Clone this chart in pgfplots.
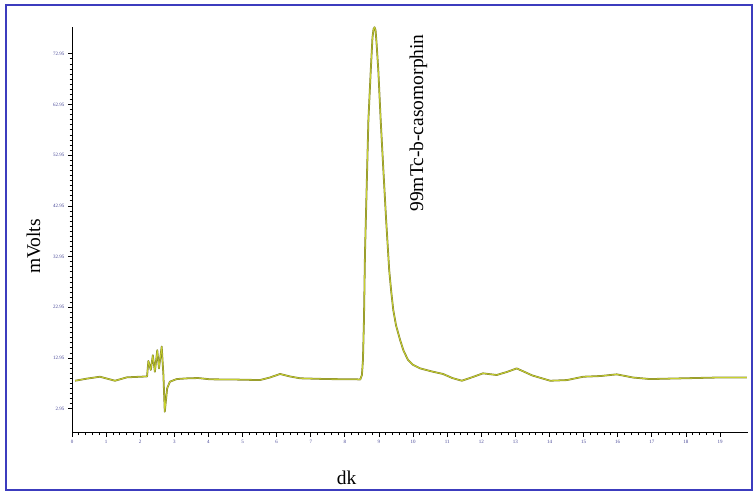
\documentclass[border=0pt]{standalone}
\usepackage{pgfplots}
\pgfplotsset{compat=1.18}
\usepackage{pgfplotstable}
\usepackage{fontspec}
\setmainfont{Liberation Serif}

\definecolor{frameblue}{RGB}{60,60,190}
\definecolor{tickblue}{RGB}{70,70,150}
\definecolor{olive1}{RGB}{130,130,45}
\definecolor{yell1}{RGB}{200,210,45}

% chromatogram trace
\pgfplotstableread{
x     y
0.09  8.47
0.45  8.9
0.82  9.26
1.26  8.47
1.61  9.14
2.14  9.3
2.20  9.3
2.24  12.36
2.31  10.6
2.37  13.5
2.43  10.25
2.50  14.5
2.55  10.9
2.63  15.2
2.68  9.6
2.72  2.36
2.79  6.97
2.87  8.28
3.07  8.8
3.40  8.95
3.70  9.0
4.05  8.75
4.80  8.7
5.51  8.6
5.80  9.1
6.10  9.8
6.40  9.3
6.69  8.95
7.47  8.8
8.35  8.75
8.45  8.7
8.50  9.6
8.53  12.5
8.56  20.4
8.59  33.6
8.64  46.7
8.69  59.9
8.76  69.8
8.81  76.2
8.84  77.8
8.87  78.2
8.90  77.6
8.93  75.0
8.98  69.8
9.05  59.9
9.13  49.9
9.21  40.2
9.30  30.3
9.36  26.0
9.42  22.4
9.50  19.4
9.62  16.5
9.72  14.4
9.85  12.6
10.00 11.6
10.21 10.9
10.55 10.3
10.88 9.8
11.15 9.0
11.43 8.47
11.75 9.2
12.05 9.93
12.45 9.6
12.75 10.2
13.04 10.9
13.50 9.5
14.02 8.47
14.51 8.6
14.99 9.26
15.50 9.4
15.97 9.73
16.45 9.1
16.95 8.8
17.92 8.95
18.91 9.1
19.79 9.1
}\trace

\begin{document}
\begin{tikzpicture}[x=1pt,y=1pt]
\path[use as bounding box] (0,0) rectangle (754,495);
\draw[frameblue, line width=1.5pt] (6,5) rectangle (752,490);
\begin{axis}[
  at={(72pt,62.3pt)}, anchor=south west,
  scale only axis, width=676pt, height=406pt,
  xmin=0, xmax=19.82, ymin=-1.78, ymax=78.3,
  axis x line*=bottom, axis y line*=left,
  axis line style={-, black, line width=1pt},
  tick align=outside,
  major tick length=4pt, minor tick length=2.5pt,
  every tick/.style={black, line width=0.8pt},
  xtick={0,1,...,19},
  xticklabels={0,1,2,3,4,5,6,7,8,9,10,11,12,13,14,15,16,17,18,19},
  minor x tick num=4,
  ytick={2.95,12.95,22.95,32.95,42.95,52.95,62.95,72.95},
  yticklabels={2.95,12.95,22.95,32.95,42.95,52.95,62.95,72.95},
  minor y tick num=9,
  tick label style={font=\fontsize{5}{6}\selectfont, text=tickblue},
  clip=false,
]
\addplot[olive1, line width=1.8pt, line join=round] table[x=x,y=y] {\trace};
\addplot[yell1, line width=0.8pt, line join=round] table[x=x,y=y] {\trace};
\end{axis}
\node[rotate=90, anchor=base, font=\fontsize{19.5}{22}\selectfont] at (40,248.5) {mVolts};
\node[anchor=base, font=\fontsize{19.5}{22}\selectfont] at (346.7,11) {dk};
\node[rotate=90, anchor=base, font=\fontsize{19.5}{22}\selectfont] at (423,372) {99mTc-b-casomorphin};
\end{tikzpicture}
\end{document}
